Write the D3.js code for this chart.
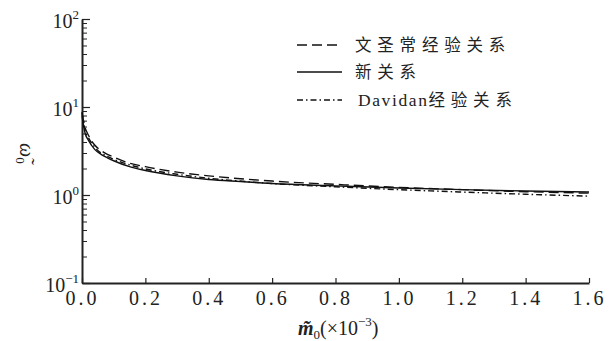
<!DOCTYPE html>
<html>
<head>
<meta charset="utf-8">
<script src="https://cdn.jsdelivr.net/npm/d3@7"></script>
<style>
  body { margin: 0; background: #fff; }
  svg { display: block; }
  .serif { font-family: "Liberation Serif", "DejaVu Serif", serif; }
  .cjk { font-family: "Noto Sans CJK SC", sans-serif; }
</style>
</head>
<body>
<div id="chartarea"></div>
<script>
// m0 (x10^-3)
const mValues = [0.0, 0.01, 0.02, 0.04, 0.06, 0.08, 0.1, 0.15, 0.2, 0.3, 0.4, 0.5, 0.6, 0.8, 1.0, 1.2, 1.4, 1.6];
// 文圣常经验关系 (dashed)
const wenSeries = [8.5, 5.8, 4.8, 3.7, 3.2, 2.9, 2.7, 2.3, 2.1, 1.82, 1.65, 1.53, 1.44, 1.32, 1.22, 1.15, 1.09, 1.05];
// 新关系 (solid)
const newSeries = [8.0, 5.0, 4.2, 3.3, 2.9, 2.65, 2.45, 2.1, 1.9, 1.65, 1.5, 1.42, 1.35, 1.27, 1.2, 1.15, 1.11, 1.08];
// Davidan经验关系 (dash-dot)
const davidanSeries = [8.8, 5.4, 4.5, 3.5, 3.0, 2.75, 2.55, 2.2, 1.98, 1.72, 1.55, 1.44, 1.35, 1.24, 1.15, 1.08, 1.02, 0.97];

const xTicks = [0, 0.2, 0.4, 0.6, 0.8, 1.0, 1.2, 1.4, 1.6];
const yMajor = [0.1, 1, 10, 100];
const yExponents = ['−1', '0', '1', '2'];

const width = 609, height = 341;
const margin = { top: 19, right: 20, bottom: 58, left: 82 };

const svg = d3.select('#chartarea')
  .append('svg')
    .attr('width', width)
    .attr('height', height);

const x = d3.scaleLinear()
  .domain([0, 1.6])
  .range([margin.left, width - margin.right]);

const y = d3.scaleLog()
  .domain([0.1, 100])
  .range([height - margin.bottom, margin.top]);

// minor y ticks
const yMinor = [];
[0.1, 1, 10].forEach(d => { for (let k = 2; k <= 9; k++) yMinor.push(d * k); });

svg.append('g')
  .attr('transform', `translate(${margin.left},0)`)
  .call(d3.axisLeft(y).tickValues(yMinor).tickSize(-5).tickFormat(() => ''))
  .call(g => g.select('.domain').remove())
  .call(g => g.selectAll('.tick line').attr('stroke', '#222').attr('stroke-width', 1));

// y axis
const yAxis = svg.append('g')
  .attr('transform', `translate(${margin.left},0)`)
  .attr('font-family', null)
  .call(d3.axisLeft(y).tickValues(yMajor).tickSize(-8).tickSizeOuter(0).tickPadding(3).tickFormat(() => ''));
yAxis.select('.domain').attr('stroke', '#222').attr('stroke-width', 2);
yAxis.selectAll('.tick line').attr('stroke', '#222').attr('stroke-width', 1.2);
yAxis.selectAll('.tick text')
  .attr('class', 'serif')
  .attr('dy', '0.4em')
  .attr('font-size', 20)
  .attr('fill', '#222')
  .each(function(d, i) {
    const t = d3.select(this);
    t.append('tspan').text('10');
    t.append('tspan').attr('font-size', 13).attr('dy', -9).text(yExponents[i]);
  });

// x axis
const xAxis = svg.append('g')
  .attr('transform', `translate(0,${height - margin.bottom})`)
  .call(d3.axisBottom(x).tickValues(xTicks).tickSize(-5).tickSizeOuter(0).tickPadding(8).tickFormat(d3.format('.1f')));
xAxis.select('.domain').attr('stroke', '#222').attr('stroke-width', 2);
xAxis.selectAll('.tick line').attr('stroke', '#222').attr('stroke-width', 1.2);
xAxis.selectAll('.tick text')
  .attr('class', 'serif')
  .attr('font-size', 20)
  .attr('letter-spacing', 3)
  .attr('fill', '#222');

// curves
const series = [
  { name: '文圣常经验关系', values: wenSeries, dash: '10,5' },
  { name: '新关系', values: newSeries, dash: null },
  { name: 'Davidan经验关系', values: davidanSeries, dash: '6,3,1.5,3' }
];

const line = d3.line()
  .x((d, i) => x(mValues[i]))
  .y(d => y(d))
  .curve(d3.curveMonotoneX);

series.forEach(s => {
  svg.append('path')
    .datum(s.values)
    .attr('fill', 'none')
    .attr('stroke', '#111')
    .attr('stroke-width', 1.4)
    .attr('stroke-dasharray', s.dash)
    .attr('d', line);
});

// legend
const legendY = [45, 72, 100];
series.forEach((s, i) => {
  svg.append('line')
    .attr('x1', 297).attr('x2', 342)
    .attr('y1', legendY[i]).attr('y2', legendY[i])
    .attr('stroke', '#111')
    .attr('stroke-width', 1.4)
    .attr('stroke-dasharray', s.dash);
  const t = svg.append('text')
    .attr('x', 355)
    .attr('y', legendY[i] + 6)
    .attr('font-size', 16.5)
    .attr('fill', '#222');
  if (s.name.startsWith('Davidan')) {
    t.append('tspan').attr('class', 'serif').attr('x', 358).attr('font-size', 17.5).attr('letter-spacing', 1.6).text('Davidan');
    t.append('tspan').attr('class', 'cjk').attr('letter-spacing', 5.8).text('经验关系');
  } else {
    t.attr('class', 'cjk').attr('letter-spacing', 5.8).text(s.name);
  }
});

// x label
const xl = svg.append('text')
  .attr('class', 'serif')
  .attr('x', 298)
  .attr('y', 335)
  .attr('font-size', 20)
  .attr('fill', '#222');
xl.append('tspan').attr('font-style', 'italic').attr('font-weight', 'bold').text('m̃');
xl.append('tspan').attr('font-size', 13).attr('dy', 4).text('0');
xl.append('tspan').attr('dy', -4).text('(×10');
xl.append('tspan').attr('font-size', 13).attr('dy', -9).text('−3');
xl.append('tspan').attr('dy', 9).text(')');

// y label
const yl = svg.append('text')
  .attr('class', 'serif')
  .attr('transform', 'translate(20,143) rotate(90)')
  .attr('font-size', 20)
  .attr('fill', '#222');
yl.append('tspan').attr('font-style', 'italic').text('ω̃');
yl.append('tspan').attr('font-size', 13).attr('dy', 4).text('0');
</script>
</body>
</html>
